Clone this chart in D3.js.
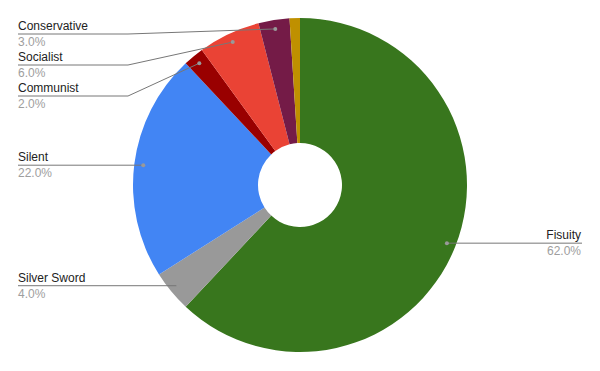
<!DOCTYPE html>
<html>
<head>
<meta charset="utf-8">
<script src="https://cdn.jsdelivr.net/npm/d3@7"></script>
<style>
  body { margin: 0; background: #fff; }
  text { font-family: "Liberation Sans", Arial, sans-serif; font-size: 12px; }
</style>
</head>
<body>
<svg id="chart" width="600" height="371"></svg>
<script>
var parties = ["Fisuity", "Silver Sword", "Silent", "Communist", "Socialist", "Conservative", "Other"];
var shares = [62, 4, 22, 2, 6, 3, 1];
var colours = ["#38761d", "#999999", "#4285f4", "#990000", "#ea4335", "#741b47", "#bf9000"];

var svg = d3.select("#chart"),
    cx = 300, cy = 185,
    outerR = 167, innerR = 42,
    g = svg.append("g").attr("transform", "translate(" + cx + "," + cy + ")");

var data = parties.map(function(p, i) { return {name: p, value: shares[i], color: colours[i]}; });

var pie = d3.pie().sort(null).value(function(d) { return d.value; });
var arc = d3.arc().innerRadius(innerR).outerRadius(outerR);
var dotArc = d3.arc().innerRadius(158).outerRadius(158);

var arcs = pie(data);
var total = d3.sum(shares);

g.selectAll("path.slice")
    .data(arcs)
    .enter().append("path")
      .attr("class", "slice")
      .attr("d", arc)
      .attr("fill", function(d) { return d.data.color; });

// labels: small slices get none
var labelled = arcs.filter(function(d) { return d.data.value >= 2; }).map(function(d) {
  var c = dotArc.centroid(d);
  return {d: d, ax: c[0] + cx, ay: c[1] + cy, right: c[0] > 0};
});

// stack left-side labels so they don't overlap
var left = labelled.filter(function(l) { return !l.right; }).sort(function(a, b) { return a.ay - b.ay; });
var prev = 34 - 31;
left.forEach(function(l) {
  l.y = Math.max(l.ay, prev + 31);
  prev = l.y;
});
labelled.filter(function(l) { return l.right; }).forEach(function(l) { l.y = l.ay; });

var fmt = d3.format(".1%");

labelled.forEach(function(l) {
  var pts;
  if (l.right) {
    pts = [[l.ax, l.ay], [582, l.y]];
  } else if (Math.abs(l.y - l.ay) > 0.5) {
    pts = [[18, l.y], [128, l.y], [l.ax, l.ay]];
  } else {
    pts = [[18, l.y], [l.ax, l.ay]];
  }
  svg.append("path")
      .attr("d", d3.line()(pts))
      .attr("fill", "none")
      .attr("stroke", "#777")
      .attr("stroke-width", 1);
  svg.append("circle")
      .attr("cx", l.ax).attr("cy", l.ay).attr("r", 2)
      .attr("fill", "#999");

  var tx = l.right ? 581 : 18,
      anchor = l.right ? "end" : "start";
  svg.append("text")
      .attr("x", tx).attr("y", l.y - 4)
      .attr("text-anchor", anchor)
      .attr("fill", "#222")
      .text(l.d.data.name);
  svg.append("text")
      .attr("x", tx).attr("y", l.y + 12)
      .attr("text-anchor", anchor)
      .attr("fill", "#9e9e9e")
      .text(fmt(l.d.data.value / total));
});
</script>
</body>
</html>
